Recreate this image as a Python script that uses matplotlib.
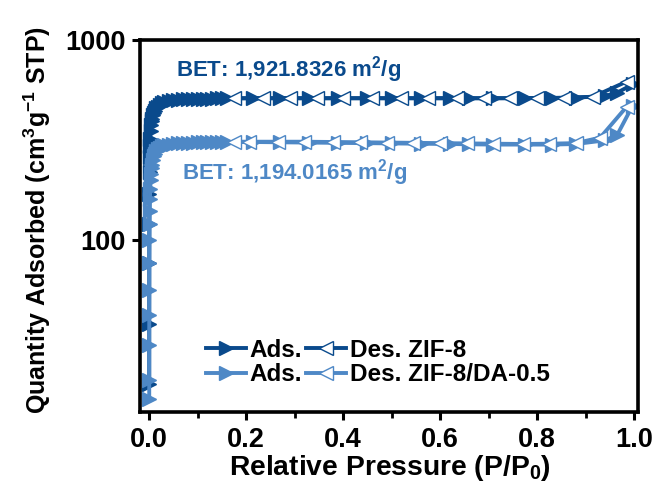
import matplotlib
matplotlib.use("Agg")
import matplotlib.pyplot as plt
from matplotlib.ticker import FixedLocator, MultipleLocator, NullLocator

plt.rcParams['font.family'] = ['Liberation Sans', 'DejaVu Sans']
plt.rcParams['font.weight'] = 'bold'
plt.rcParams['mathtext.default'] = 'regular'

DARK = '#0a4a8c'
LIGHT = '#4e88c6'

# ZIF-8 adsorption / desorption
zif8_ads_x = [0.00001, 0.00003, 0.0001, 0.0002, 0.0004, 0.0007, 0.001, 0.0015, 0.002, 0.003,
              0.004, 0.005, 0.006, 0.008, 0.010, 0.012, 0.015, 0.018, 0.022, 0.026, 0.030,
              0.04, 0.05, 0.06, 0.07, 0.08, 0.09, 0.10, 0.11, 0.12, 0.13, 0.14, 0.15, 0.16,
              0.215, 0.27, 0.33, 0.39, 0.45, 0.50, 0.56, 0.62, 0.66, 0.71, 0.775, 0.83, 0.88,
              0.94, 0.965, 0.997]
zif8_ads_y = [19, 38, 77, 120, 170, 220, 260, 295, 320, 350,
              375, 392, 405, 420, 432, 442, 455, 465, 475, 483, 490,
              496, 500, 503, 505, 506, 507, 508, 508, 509, 509, 510, 510, 510,
              511, 511, 511, 511, 511, 511, 511, 511, 511, 511, 512, 513, 515,
              525, 545, 600]
zif8_des_x = [0.985, 0.915, 0.855, 0.80, 0.745, 0.69, 0.635, 0.575, 0.52, 0.46, 0.40,
              0.345, 0.29, 0.235, 0.175]
zif8_des_y = [620, 520, 514, 513, 512, 512, 512, 512, 512, 512, 512, 512, 512, 512, 512]

# ZIF-8/DA-0.5 adsorption / desorption
da_ads_x = [0.00001, 0.00003, 0.00006, 0.0001, 0.0002, 0.0003, 0.0005, 0.0007, 0.001, 0.0015,
            0.002, 0.003, 0.004, 0.005, 0.006, 0.008, 0.010, 0.012, 0.015, 0.018, 0.022,
            0.026, 0.030, 0.04, 0.05, 0.06, 0.07, 0.08, 0.09, 0.10, 0.11, 0.12, 0.13, 0.14,
            0.15, 0.16, 0.215, 0.27, 0.33, 0.39, 0.45, 0.50, 0.56, 0.62, 0.66, 0.71, 0.775,
            0.83, 0.88, 0.94, 0.965, 0.997]
da_ads_y = [16, 20, 30, 42, 56, 77, 100, 120, 140, 160,
            180, 200, 215, 228, 238, 252, 262, 270, 278, 284, 290,
            294, 297, 300, 302, 304, 305, 306, 307, 308, 308, 308, 309, 309,
            309, 309, 309, 308, 307, 306, 305, 304, 303, 302, 301, 300, 300,
            300, 302, 315, 335, 470]
da_des_x = [0.985, 0.93, 0.88, 0.825, 0.77, 0.71, 0.655, 0.60, 0.545, 0.49, 0.435,
            0.38, 0.32, 0.265, 0.205, 0.175]
da_des_y = [465, 325, 305, 303, 302, 303, 304, 305, 306, 307, 308, 309, 310, 310, 310, 310]

x_ticks = [0.0, 0.2, 0.4, 0.6, 0.8, 1.0]
y_ticks = [100, 1000]

fig = plt.figure(figsize=(6.54, 4.88), dpi=100)
ax = fig.add_axes([140/654, 1-412/488, 498/654, 372/488])

ms = 10.5
lw = 2.8
ax.plot(zif8_ads_x, zif8_ads_y, color=DARK, lw=lw, marker='>', ms=ms,
        mfc=DARK, mec=DARK, label='Ads.')
ax.plot(da_ads_x, da_ads_y, color=LIGHT, lw=lw, marker='>', ms=ms,
        mfc=LIGHT, mec=LIGHT, label='Ads.')
ax.plot(zif8_des_x, zif8_des_y, color=DARK, lw=lw, marker='<', ms=ms,
        mfc='white', mec=DARK, mew=1.0, label='Des. ZIF-8')
ax.plot(da_des_x, da_des_y, color=LIGHT, lw=lw, marker='<', ms=ms,
        mfc='white', mec=LIGHT, mew=1.0, label='Des. ZIF-8/DA-0.5')

ax.set_yscale('log')
ax.set_xlim(-0.019, 1.008)
ax.set_ylim(13.8, 1000)

ax.xaxis.set_major_locator(FixedLocator(x_ticks))
ax.xaxis.set_minor_locator(MultipleLocator(0.1))
ax.set_xticklabels([f'{t:.1f}' for t in x_ticks])
ax.yaxis.set_major_locator(FixedLocator(y_ticks))
ax.yaxis.set_minor_locator(NullLocator())
ax.set_yticklabels([str(t) for t in y_ticks])

for s in ax.spines.values():
    s.set_linewidth(2.6)
ax.tick_params(which='major', direction='out', length=6, width=2.2,
               labelsize=19.5, pad=5)
ax.tick_params(which='minor', direction='out', length=4, width=2.0)
ax.tick_params(axis='y', which='major', pad=4)
for lab in ax.get_xticklabels() + ax.get_yticklabels():
    lab.set_fontweight('bold')

ax.set_xlabel('Relative Pressure (P/P$_0$)', fontsize=20.3, fontweight='bold')
ax.set_ylabel('Quantity Adsorbed (cm$^3$g$^{-1}$ STP)', fontsize=18, fontweight='bold')
ax.xaxis.set_label_coords(0.502, -0.11)
ax.yaxis.set_label_coords(-0.175, 0.515)

ax.text(0.056, 655, 'BET: 1,921.8326 m$^2$/g', color=DARK, fontsize=16,
        fontweight='bold', ha='left', va='baseline')
ax.text(0.068, 200, 'BET: 1,194.0165 m$^2$/g', color=LIGHT, fontsize=16,
        fontweight='bold', ha='left', va='baseline')

leg = ax.legend(loc='upper left', bbox_to_anchor=((206-140)/498, (412-339)/372),
                ncol=2, frameon=False, fontsize=17.5, handlelength=1.65,
                handletextpad=0.15, columnspacing=0.15, labelspacing=0.05,
                borderaxespad=0, borderpad=0)
for t in leg.get_texts():
    t.set_fontweight('bold')

fig.savefig('out.png', dpi=100)
